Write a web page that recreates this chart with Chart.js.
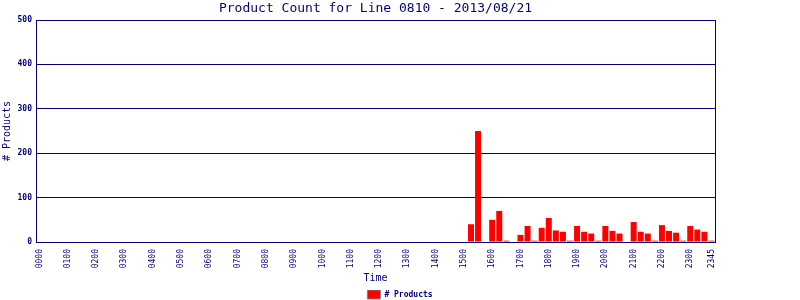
<!DOCTYPE html>
<html>
<head>
<meta charset="utf-8">
<script src="https://cdn.jsdelivr.net/npm/chart.js@4/dist/chart.umd.min.js"></script>
<style>
  html, body { margin: 0; padding: 0; background: #fff; }
  #wrap { width: 800px; height: 300px; }
</style>
</head>
<body>
<div id="wrap"><canvas id="chart" width="800" height="300"></canvas></div>
<script>
// 15 minute slots for one day of line 0810
const times = [
  '0000','0015','0030','0045','0100','0115','0130','0145','0200','0215','0230','0245',
  '0300','0315','0330','0345','0400','0415','0430','0445','0500','0515','0530','0545',
  '0600','0615','0630','0645','0700','0715','0730','0745','0800','0815','0830','0845',
  '0900','0915','0930','0945','1000','1015','1030','1045','1100','1115','1130','1145',
  '1200','1215','1230','1245','1300','1315','1330','1345','1400','1415','1430','1445',
  '1500','1515','1530','1545','1600','1615','1630','1645','1700','1715','1730','1745',
  '1800','1815','1830','1845','1900','1915','1930','1945','2000','2015','2030','2045',
  '2100','2115','2130','2145','2200','2215','2230','2245','2300','2315','2330','2345'
];

// product count per slot
const productCounts = [
  0, 0, 0, 0, 0, 0, 0, 0, 0, 0, 0, 0,
  0, 0, 0, 0, 0, 0, 0, 0, 0, 0, 0, 0,
  0, 0, 0, 0, 0, 0, 0, 0, 0, 0, 0, 0,
  0, 0, 0, 0, 0, 0, 0, 0, 0, 0, 0, 0,
  0, 0, 0, 0, 0, 0, 0, 0, 0, 0, 0, 0,
  0, 40, 250, 0, 50, 70, 3, 0, 16, 36, 3, 32,
  54, 26, 23, 3, 36, 23, 19, 3, 36, 25, 19, 0,
  45, 23, 19, 3, 38, 25, 21, 3, 36, 28, 23, 3
];

// only these labels are printed under the axis
const shownTicks = [
  '0000','0100','0200','0300','0400','0500','0600','0700','0800','0900','1000','1100',
  '1200','1300','1400','1500','1600','1700','1800','1900','2000','2100','2200','2300','2345'
];

const yTicks = [0, 100, 200, 300, 400, 500];

const chartTitle = 'Product Count for Line 0810 - 2013/08/21';
const seriesName = '# Products';

const NAVY = '#000080';
const MONO = '"DejaVu Sans Mono", "Liberation Mono", monospace';

// title is centered over the plot area, not the whole canvas
const plotTitle = {
  id: 'plotTitle',
  afterDraw(chart) {
    const { ctx, chartArea } = chart;
    ctx.save();
    ctx.font = '13px ' + MONO;
    ctx.fillStyle = NAVY;
    ctx.textAlign = 'center';
    ctx.textBaseline = 'middle';
    ctx.fillText(chartTitle, (chartArea.left + chartArea.right) / 2, 9);
    ctx.restore();
  }
};

const ctx = document.getElementById('chart');
new Chart(ctx, {
  type: 'bar',
  data: {
    labels: times,
    datasets: [{
      label: seriesName,
      data: productCounts,
      backgroundColor: '#ff0000',
      borderWidth: 0,
      barPercentage: 1,
      categoryPercentage: 0.85,
      yAxisID: 'y'
    }]
  },
  options: {
    responsive: false,
    animation: false,
    layout: { padding: { top: 20, left: 0, right: 0, bottom: 0 } },
    plugins: {
      title: { display: false },
      tooltip: { enabled: false },
      legend: {
        position: 'bottom',
        maxHeight: 10,
        labels: {
          color: NAVY,
          font: { family: MONO, size: 8, weight: 'bold' },
          boxWidth: 13,
          boxHeight: 9,
          padding: 0,
          generateLabels(chart) {
            return Chart.defaults.plugins.legend.labels.generateLabels(chart)
              .map(l => Object.assign(l, { strokeStyle: '#808080', lineWidth: 1 }));
          }
        }
      }
    },
    scales: {
      x: {
        grid: { display: false, drawTicks: false },
        border: { display: true, color: NAVY, width: 1 },
        ticks: {
          autoSkip: false,
          maxRotation: 90,
          minRotation: 90,
          padding: 7,
          color: NAVY,
          font: { family: MONO, size: 8 },
          callback(value, index) {
            const t = times[index];
            return shownTicks.includes(t) ? t : '';
          }
        },
        title: {
          display: true,
          text: 'Time',
          color: NAVY,
          font: { family: MONO, size: 10 },
          padding: { top: 0, bottom: 6 }
        },
        afterFit(scale) { scale.height = 48; }
      },
      y: {
        min: 0,
        max: 500,
        afterBuildTicks(scale) { scale.ticks = yTicks.map(v => ({ value: v })); },
        grid: { color: NAVY, lineWidth: 1, drawTicks: false },
        border: { display: true, color: NAVY, width: 1 },
        ticks: {
          padding: 4,
          color: NAVY,
          font: { family: MONO, size: 8, weight: 'bold' }
        },
        title: {
          display: true,
          text: seriesName,
          color: NAVY,
          font: { family: MONO, size: 10 },
          padding: { top: 1, bottom: 0 }
        },
        afterFit(scale) { scale.width = 36; }
      },
      // empty right axis: draws the right frame line and keeps the plot narrower
      y2: {
        position: 'right',
        min: 0,
        max: 500,
        grid: { display: false, drawTicks: false },
        border: { display: true, color: NAVY, width: 1 },
        ticks: { display: false },
        afterFit(scale) { scale.width = 85; }
      }
    }
  },
  plugins: [plotTitle]
});
</script>
</body>
</html>
